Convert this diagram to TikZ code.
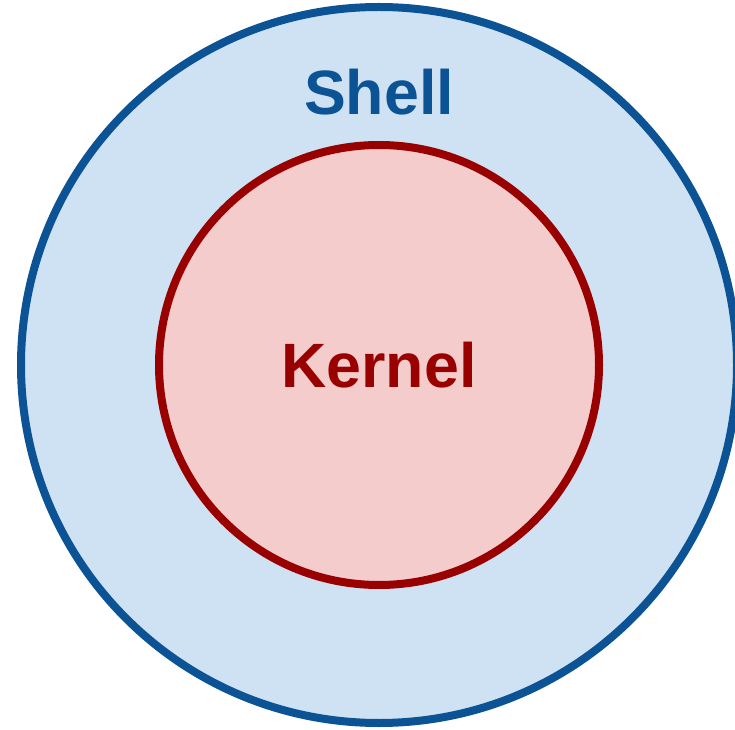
\documentclass[tikz,border=0pt]{standalone}
\usepackage{fontspec}
\setmainfont{Liberation Sans}
\usepackage{xcolor}
\definecolor{ShellBlue}{HTML}{0B5394}
\definecolor{ShellFill}{HTML}{CFE2F3}
\definecolor{KernelRed}{HTML}{990000}
\definecolor{KernelFill}{HTML}{F4CCCC}
\usepackage{tikz}
\usetikzlibrary{positioning}
\tikzset{
  % Circle styles
  shellcircle/.style={circle, draw=ShellBlue, fill=ShellFill, line width=6pt, minimum size=537pt, inner sep=0pt, outer sep=0pt},
  kernelcircle/.style={circle, draw=KernelRed, fill=KernelFill, line width=6pt, minimum size=330pt, inner sep=0pt, outer sep=0pt, text=KernelRed, font=\fontsize{47}{56}\selectfont\bfseries},
  % Label styles
  shelllabel/.style={inner sep=0pt, text=ShellBlue, font=\fontsize{47}{56}\selectfont\bfseries}
}

\begin{document}
\begin{tikzpicture}[x=0.75pt, y=0.75pt]
  \useasboundingbox (0,0) rectangle (735,729);

  % Outer ring
  \node[shellcircle] (shell) at (379,364) {};

  % Inner core
  \node[kernelcircle] (kernel) at (379,364) {Kernel};

  % Label
  \node[shelllabel, above=22pt of kernel] (shelltext) {Shell};
\end{tikzpicture}
\end{document}
